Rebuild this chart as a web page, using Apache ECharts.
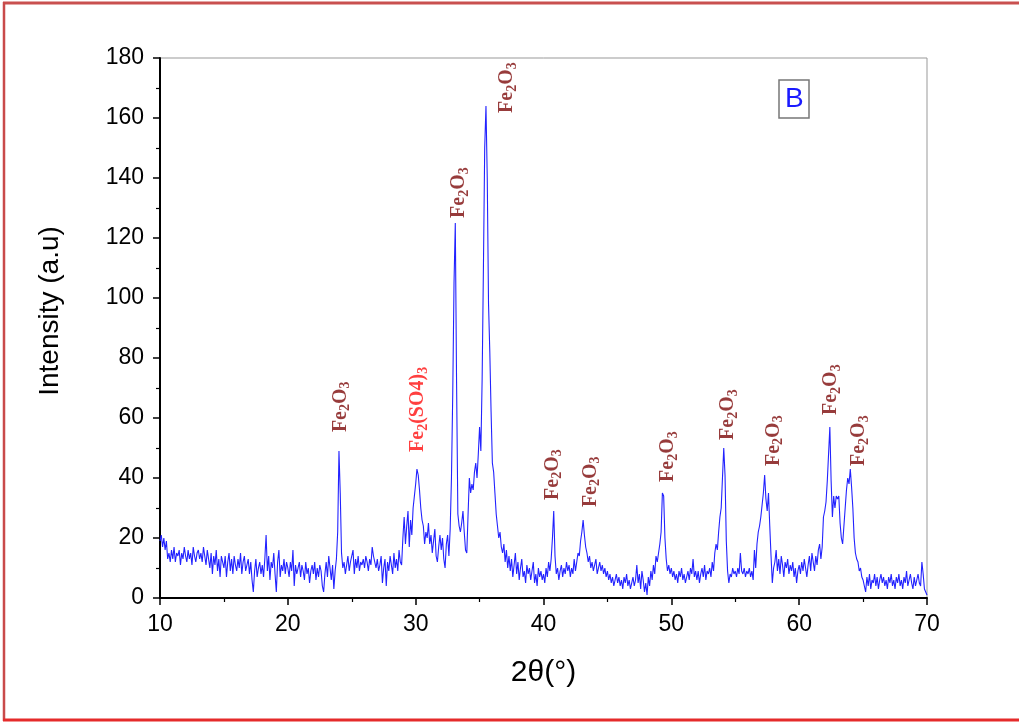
<!DOCTYPE html>
<html>
<head>
<meta charset="utf-8">
<script src="https://cdn.jsdelivr.net/npm/echarts@6/dist/echarts.min.js"></script>
<style>html,body{margin:0;padding:0;background:#fff;}#c{width:1019px;height:722px;}</style>
</head>
<body>
<div id="c"></div>
<script>
// 2θ grid: from 10° to 70° in 0.1° steps
const thetaStart = 10;
const thetaStep = 0.1;
// intensity, one row per degree (10.0 ... 10.9, 11.0 ... )
const intensity = [
  19,21,17,20,16,19,13,15,12,16,
  13,17,12,15,14,16,11,15,13,17,
  14,12,16,13,15,11,17,14,12,15,
  16,13,15,12,17,14,11,16,13,10,
  15,8,14,11,16,9,13,7,14,12,
  10,14,7,12,15,9,13,8,14,11,
  9,13,10,15,8,12,14,9,11,13,
  8,12,6,2,9,13,7,10,12,8,
  11,7,13,21,9,14,6,12,10,15,
  8,2,12,16,7,11,9,13,8,12,
  10,7,12,9,16,4,11,8,10,12,
  7,11,9,6,12,8,10,5,9,11,
  8,12,6,10,7,11,9,4,2,8,
  12,7,14,10,6,11,3,9,13,22,
  49,35,15,10,12,8,11,14,9,12,
  12,16,8,13,10,14,9,12,11,13,
  10,14,12,9,13,11,17,14,12,10,
  13,9,11,14,5,10,13,4,12,9,
  14,11,8,15,10,13,9,16,12,11,
  20,27,18,24,29,17,26,21,30,34,
  38,43,41,36,30,26,24,18,22,20,
  25,18,21,15,19,23,14,12,17,21,
  16,20,13,10,18,21,14,23,40,68,
  105,125,72,28,24,22,25,29,22,16,
  15,28,40,35,38,36,42,45,40,48,
  57,49,73,110,150,164,140,98,82,62,
  45,42,35,28,24,20,22,17,15,18,
  12,16,10,14,9,13,7,11,15,8,
  12,6,10,13,7,9,5,11,8,10,
  6,9,12,5,8,4,10,7,9,6,
  8,5,10,7,12,9,13,20,29,14,
  8,10,6,9,11,7,10,8,12,9,
  11,7,10,8,13,9,12,15,14,19,
  22,26,21,17,15,12,14,10,12,9,
  11,13,8,10,12,9,11,8,10,7,
  9,6,8,5,7,4,6,8,5,7,
  4,6,3,7,5,8,4,6,3,5,
  7,4,6,11,5,8,3,9,6,2,
  5,1,7,4,9,6,11,8,14,12,
  15,18,22,35,34,20,13,9,11,8,
  10,7,9,6,8,5,9,7,10,6,
  8,5,7,9,6,10,8,13,7,9,
  6,9,5,8,10,7,11,6,9,8,
  10,7,12,9,15,18,16,22,27,30,
  40,50,41,19,9,5,8,7,10,8,
  9,7,10,8,15,9,8,10,7,9,
  8,10,7,9,6,16,10,18,22,24,
  27,31,35,41,33,29,35,24,14,5,
  10,12,16,9,13,8,14,11,7,12,
  10,13,8,11,9,12,7,10,5,9,
  11,8,12,9,13,10,7,11,14,9,
  15,12,9,14,11,16,18,13,17,27,
  29,32,39,48,57,39,27,34,30,34,
  33,34,25,20,18,24,30,36,40,38,
  43,37,30,20,15,13,12,9,10,7,
  6,4,2,7,4,8,3,6,5,8,
  4,7,3,6,8,5,7,4,6,3,
  7,5,8,4,6,3,7,5,8,4,
  6,3,7,5,9,4,6,8,5,3,
  7,4,6,8,5,4,12,8,3,2,
  1
];

// Peak annotations: label start position (2θ, intensity) and phase
const labelTheta = [24.15, 30.2, 33.4, 37.15, 40.7, 43.7, 49.75, 54.45, 58.0, 62.5, 64.7];
const labelIntensity = [55.3, 48.7, 126.7, 161.7, 32.7, 30.3, 38.7, 52.7, 44, 61, 44];
const labelPhase = ['Fe2O3','Fe2(SO4)3','Fe2O3','Fe2O3','Fe2O3','Fe2O3','Fe2O3','Fe2O3','Fe2O3','Fe2O3','Fe2O3'];

const xTicks = [10, 20, 30, 40, 50, 60, 70];
const yTicks = [0, 20, 40, 60, 80, 100, 120, 140, 160, 180];
const xTitle = '2θ(°)';
const yTitle = 'Intensity (a.u)';
const panelLetter = 'B';

const lineData = intensity.map((v, i) => [+(thetaStart + i * thetaStep).toFixed(2), v]);

const phaseRich = {
  'Fe2O3': '{m|Fe}{s|2}{m|O}{s|3}',
  'Fe2(SO4)3': '{m|Fe}{s|2}{m|(SO4)}{s|3}'
};
const phaseColor = { 'Fe2O3': '#7d0a0a', 'Fe2(SO4)3': '#ff0f0f' };

function richFor(color) {
  return {
    m: { fontFamily: 'Liberation Serif', fontWeight: 'bold', fontSize: 20, color: color, lineHeight: 24, verticalAlign: 'middle' },
    s: { fontFamily: 'Liberation Serif', fontWeight: 'bold', fontSize: 14, color: color, lineHeight: 14, verticalAlign: 'bottom', padding: [9, 0, 0, 0] }
  };
}

const labelData = labelTheta.map((t, i) => ({
  value: [t, labelIntensity[i]],
  label: {
    show: true, position: 'inside', rotate: 90, align: 'left', verticalAlign: 'middle',
    formatter: phaseRich[labelPhase[i]],
    rich: richFor(phaseColor[labelPhase[i]])
  }
}));

const chart = echarts.init(document.getElementById('c'), null, { renderer: 'canvas' });
chart.setOption({
  backgroundColor: '#ffffff',
  animation: false,
  title: {
    text: panelLetter,
    left: 779, top: 80,
    padding: [5, 6, 5, 6],
    borderColor: '#777777', borderWidth: 1.5,
    textStyle: { color: '#1a1aff', fontFamily: 'Liberation Sans', fontSize: 28, fontWeight: 'normal' }
  },
  graphic: [
    { type: 'line', shape: { x1: 3, y1: 3, x2: 1019, y2: 3 }, style: { stroke: '#c9504f', lineWidth: 3 } },
    { type: 'line', shape: { x1: 4, y1: 2, x2: 4, y2: 721 }, style: { stroke: '#c94a4a', lineWidth: 2.5 } },
    { type: 'line', shape: { x1: 3, y1: 720, x2: 1019, y2: 720 }, style: { stroke: '#e52b2b', lineWidth: 3 } }
  ],
  grid: {
    left: 160, right: 92, top: 58, bottom: 124,
    show: true, borderColor: '#999999', borderWidth: 1, backgroundColor: 'transparent'
  },
  xAxis: {
    type: 'value', min: 10, max: 70, interval: 10,
    name: xTitle, nameLocation: 'middle', nameGap: 60,
    nameTextStyle: { fontFamily: 'Liberation Sans', fontSize: 30, color: '#000' },
    axisLine: { onZero: false, lineStyle: { color: '#000', width: 2 } },
    axisTick: { length: 7, lineStyle: { color: '#000', width: 1.5 } },
    minorTick: { show: true, splitNumber: 2, length: 4, lineStyle: { color: '#000', width: 1.2 } },
    splitLine: { show: false },
    axisLabel: { margin: 15, fontFamily: 'Liberation Sans', fontSize: 23, color: '#000',
      formatter: v => xTicks.includes(v) ? String(v) : '' }
  },
  yAxis: {
    type: 'value', min: 0, max: 180, interval: 20,
    name: yTitle, nameLocation: 'middle', nameGap: 96, nameRotate: 90,
    nameTextStyle: { fontFamily: 'Liberation Sans', fontSize: 28, color: '#000', padding: [0, 0, 0, 34] },
    axisLine: { onZero: false, lineStyle: { color: '#000', width: 2 } },
    axisTick: { length: 7, lineStyle: { color: '#000', width: 1.5 } },
    minorTick: { show: true, splitNumber: 2, length: 4, lineStyle: { color: '#000', width: 1.2 } },
    splitLine: { show: false },
    axisLabel: { margin: 16, fontFamily: 'Liberation Sans', fontSize: 23, color: '#000',
      formatter: v => yTicks.includes(v) ? String(v) : '' }
  },
  series: [
    {
      type: 'line', data: lineData, showSymbol: false, symbol: 'none',
      lineStyle: { color: '#2222ff', width: 1.1 }, z: 3
    },
    {
      type: 'scatter', data: labelData, symbolSize: 1,
      itemStyle: { color: 'rgba(0,0,0,0)' }, z: 5,
      emphasis: { disabled: true }
    }
  ]
});
</script>
</body>
</html>
